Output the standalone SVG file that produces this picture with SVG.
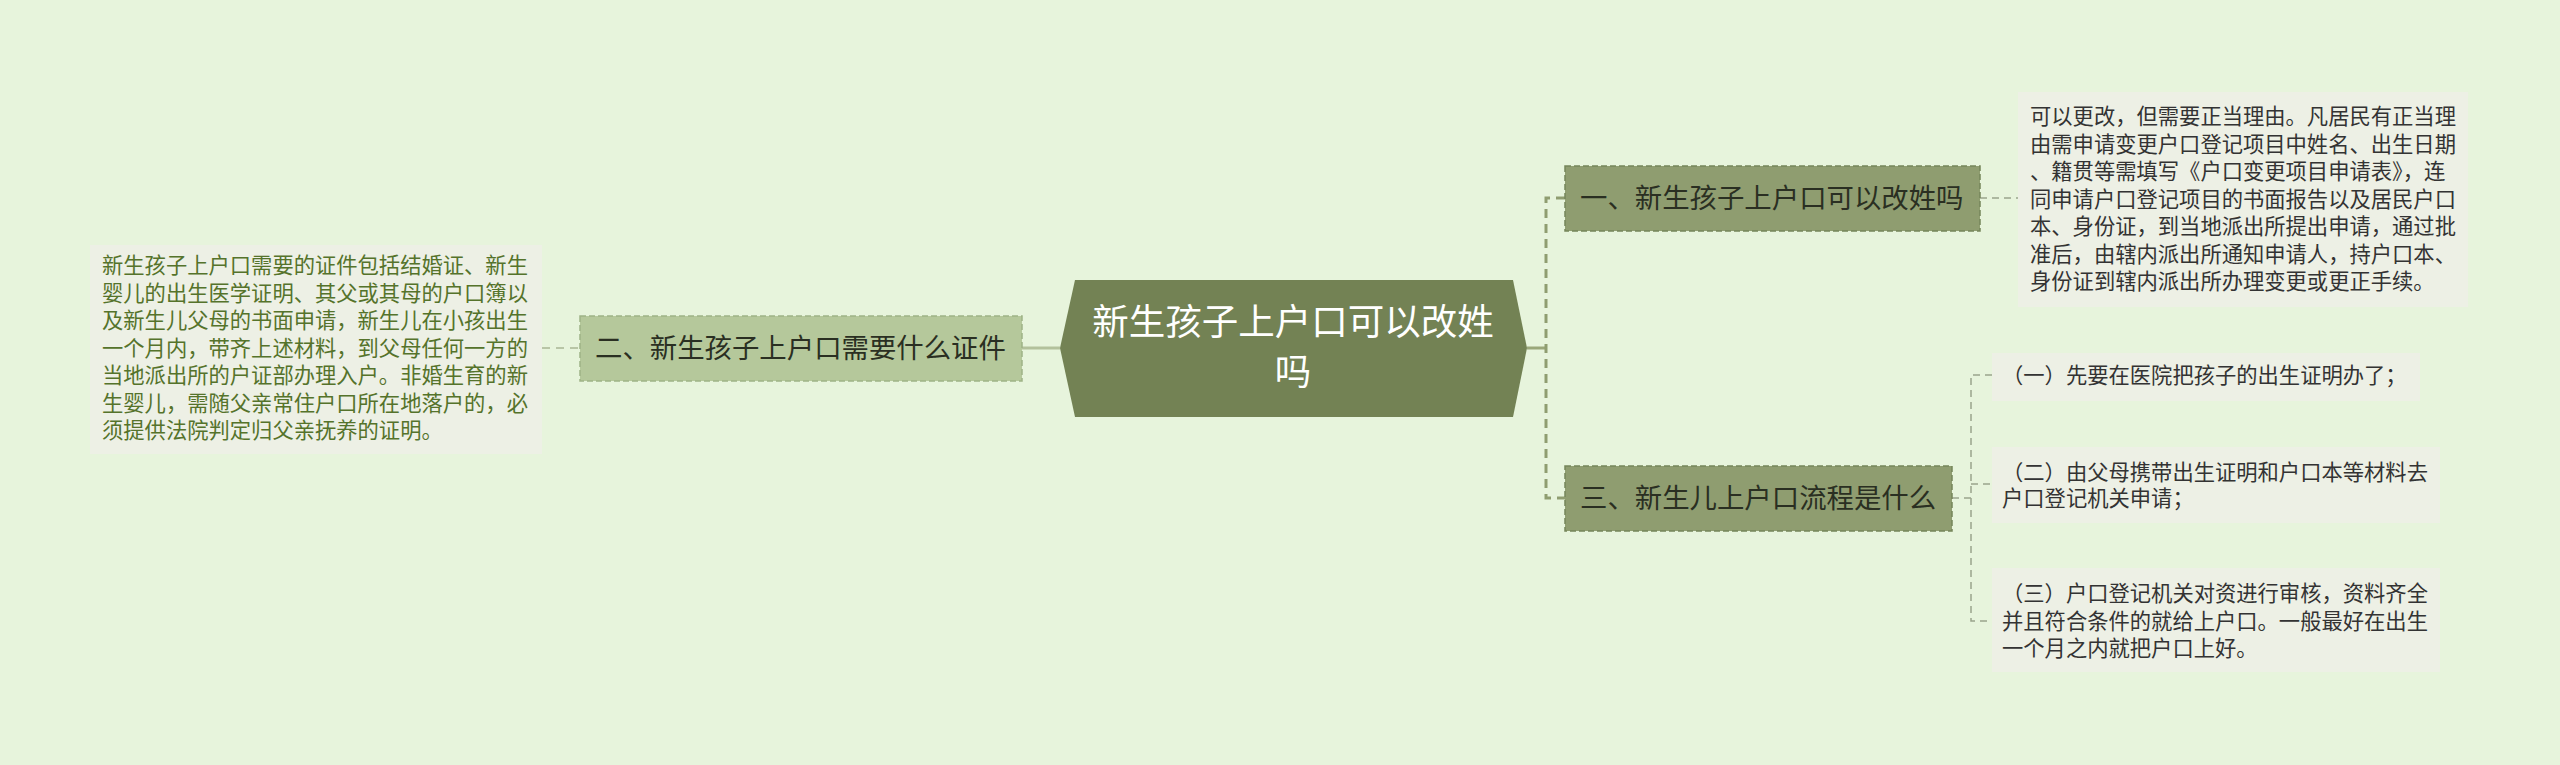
<svg xmlns="http://www.w3.org/2000/svg" width="2560" height="765" viewBox="0 0 2560 765">
<style>
text{font-family:"Noto Sans CJK SC","Noto Sans",sans-serif;}
.c{fill:#ffffff;font-size:36.5px;}
.n{fill:#2a2f22;font-size:27.4px;}
.l{fill:#333333;font-size:21.3px;}
.lg{fill:#55732b;font-size:21.3px;}
.leaf{fill:#edf0e5;}
.main{fill:#8f9d70;stroke:#76855a;stroke-width:1.5;stroke-dasharray:6 3;}
.sub{fill:#b5c89b;stroke:#9fb386;stroke-width:1.5;stroke-dasharray:6 3;}
.thick{fill:none;stroke:#8f9d70;stroke-width:3;stroke-dasharray:9 6;}
.thin{fill:none;stroke:#9aa48c;stroke-width:1.5;stroke-dasharray:7 5;}
.thinl{fill:none;stroke:#b8c5a6;stroke-width:2;stroke-dasharray:8 6;}
</style>
<rect width="2560" height="765" fill="#e7f4dc"/>
<g id="connectors">
<line x1="1527" y1="348" x2="1546" y2="348" stroke="#9aa77a" stroke-width="3"/>
<path class="thick" d="M1565 198 H1546 V498 H1565"/>
<line x1="1022" y1="348" x2="1060" y2="348" stroke="#b3c19c" stroke-width="3"/>
<line class="thinl" x1="542" y1="348" x2="580" y2="348"/>
<line class="thin" x1="1980" y1="198" x2="2018" y2="198"/>
<line class="thin" x1="1952" y1="498" x2="1971" y2="498"/>
<path class="thin" d="M1992 375 H1971 V621 H1992"/>
<line class="thin" x1="1971" y1="484" x2="1992" y2="484"/>
</g>
<g id="root">
<polygon points="1060,348 1075,280 1513,280 1527,348 1513,417 1075,417" fill="#738254"/>
<text class="c" x="1293" y="335" text-anchor="middle">新生孩子上户口可以改姓</text>
<text class="c" x="1293" y="385" text-anchor="middle">吗</text>
</g>
<g id="node-1">
<rect class="main" x="1565" y="166" width="415" height="65"/>
<text class="n" x="1580" y="208">一、新生孩子上户口可以改姓吗</text>
</g>
<g id="node-2">
<rect class="sub" x="580" y="316" width="442" height="65"/>
<text class="n" x="595" y="358">二、新生孩子上户口需要什么证件</text>
</g>
<g id="node-3">
<rect class="main" x="1565" y="466" width="387" height="65"/>
<text class="n" x="1580" y="508">三、新生儿上户口流程是什么</text>
</g>
<g id="leaf-1">
<rect class="leaf" x="2018" y="92" width="450" height="215"/>
<text class="l" x="2030" y="124">可以更改，但需要正当理由。凡居民有正当理</text>
<text class="l" x="2030" y="151.5">由需申请变更户口登记项目中姓名、出生日期</text>
<text class="l" x="2030" y="179">、籍贯等需填写《户口变更项目申请表》，连</text>
<text class="l" x="2030" y="206.5">同申请户口登记项目的书面报告以及居民户口</text>
<text class="l" x="2030" y="234">本、身份证，到当地派出所提出申请，通过批</text>
<text class="l" x="2030" y="261.5">准后，由辖内派出所通知申请人，持户口本、</text>
<text class="l" x="2030" y="289">身份证到辖内派出所办理变更或更正手续。</text>
</g>
<g id="leaf-2">
<rect class="leaf" x="90" y="245" width="452" height="209"/>
<text class="lg" x="102" y="273">新生孩子上户口需要的证件包括结婚证、新生</text>
<text class="lg" x="102" y="300.5">婴儿的出生医学证明、其父或其母的户口簿以</text>
<text class="lg" x="102" y="328">及新生儿父母的书面申请，新生儿在小孩出生</text>
<text class="lg" x="102" y="355.5">一个月内，带齐上述材料，到父母任何一方的</text>
<text class="lg" x="102" y="383">当地派出所的户证部办理入户。非婚生育的新</text>
<text class="lg" x="102" y="410.5">生婴儿，需随父亲常住户口所在地落户的，必</text>
<text class="lg" x="102" y="438">须提供法院判定归父亲抚养的证明。</text>
</g>
<g id="leaf-3a">
<rect class="leaf" x="1992" y="353" width="428" height="48"/>
<text class="l" x="2002" y="383">（一）先要在医院把孩子的出生证明办了；</text>
</g>
<g id="leaf-3b">
<rect class="leaf" x="1992" y="447" width="448" height="76"/>
<text class="l" x="2002" y="480">（二）由父母携带出生证明和户口本等材料去</text>
<text class="l" x="2002" y="506">户口登记机关申请；</text>
</g>
<g id="leaf-3c">
<rect class="leaf" x="1992" y="568" width="448" height="104"/>
<text class="l" x="2002" y="601">（三）户口登记机关对资进行审核，资料齐全</text>
<text class="l" x="2002" y="629">并且符合条件的就给上户口。一般最好在出生</text>
<text class="l" x="2002" y="656">一个月之内就把户口上好。</text>
</g>
</svg>
